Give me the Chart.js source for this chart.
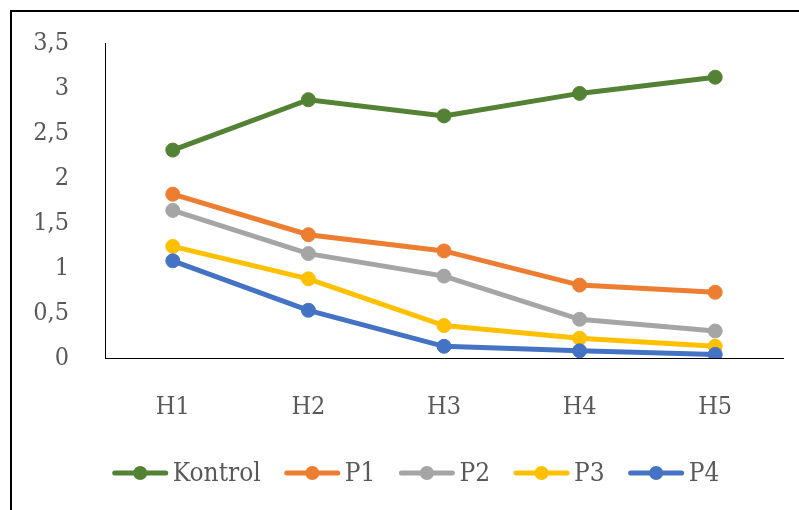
<!DOCTYPE html>
<html>
<head>
<meta charset="utf-8">
<script src="https://cdn.jsdelivr.net/npm/chart.js@4.4.0/dist/chart.umd.min.js"></script>
<style>
  body { margin: 0; background: #fff; }
  #wrap { position: relative; width: 799px; height: 510px; overflow: hidden; }
  #frame { position: absolute; left: 10px; top: 10px; width: 1000px; height: 1000px; border-left: 2px solid #000; border-top: 2px solid #000; }
  #c { position: absolute; left: 0; top: 0; }
</style>
</head>
<body>
<div id="wrap">
  <div id="frame"></div>
  <canvas id="c" width="799" height="510"></canvas>
</div>
<script>
const categories = ["H1", "H2", "H3", "H4", "H5"];
const seriesNames = ["Kontrol", "P1", "P2", "P3", "P4"];
const kontrol = [2.31, 2.87, 2.69, 2.94, 3.12];
const p1 = [1.82, 1.37, 1.19, 0.81, 0.73];
const p2 = [1.64, 1.16, 0.91, 0.43, 0.30];
const p3 = [1.24, 0.88, 0.36, 0.22, 0.13];
const p4 = [1.08, 0.53, 0.13, 0.08, 0.04];
const colors = ["#548235", "#ED7D31", "#A5A5A5", "#FFC000", "#4472C4"];
const yTicks = [0, 0.5, 1, 1.5, 2, 2.5, 3, 3.5];

const fontFamily = "'DejaVu Serif Condensed', 'DejaVu Serif', serif";

// legend drawn by hand: line + dot, then the name, all in one row
const legendRow = {
    id: "legendRow",
    afterDraw(chart) {
        const g = chart.ctx;
        const y = 473;
        const markW = 55, textGap = 5, itemGap = 24;
        g.save();
        g.font = "26px " + fontFamily;
        g.textBaseline = "middle";
        g.textAlign = "left";
        const widths = chart.data.datasets.map(ds => g.measureText(ds.label).width);
        let total = 0;
        widths.forEach(w => { total += markW + textGap + w; });
        total += itemGap * (widths.length - 1);
        let x = 416 - total / 2;
        chart.data.datasets.forEach((ds, i) => {
            g.strokeStyle = ds.borderColor;
            g.lineWidth = 5;
            g.lineCap = "round";
            g.beginPath();
            g.moveTo(x + 2, y);
            g.lineTo(x + markW - 2, y);
            g.stroke();
            g.fillStyle = ds.borderColor;
            g.beginPath();
            g.arc(x + markW / 2, y, 7, 0, Math.PI * 2);
            g.fill();
            x += markW + textGap;
            g.fillStyle = "#595959";
            g.fillText(ds.label, x, y + 1);
            x += widths[i] + itemGap;
        });
        g.restore();
    }
};

const allValues = [kontrol, p1, p2, p3, p4];
const datasets = allValues.map((vals, i) => ({
    label: seriesNames[i],
    data: vals,
    borderColor: colors[i],
    backgroundColor: colors[i],
    borderWidth: 5,
    pointRadius: 7,
    pointBorderWidth: 1,
    pointBackgroundColor: colors[i],
    pointBorderColor: colors[i],
    tension: 0,
    order: 5 - i
}));

const ctx = document.getElementById("c").getContext("2d");
new Chart(ctx, {
    type: "line",
    data: { labels: categories, datasets: datasets },
    options: {
        responsive: false,
        animation: false,
        devicePixelRatio: 1,
        layout: { padding: { left: 10, right: 16, top: 33, bottom: 62 } },
        plugins: {
            tooltip: { enabled: false },
            legend: { display: false }
        },
        scales: {
            x: {
                offset: true,
                grid: { display: false },
                border: { display: true, color: "#000", width: 1 },
                ticks: {
                    color: "#595959",
                    padding: 26,
                    font: { family: fontFamily, size: 25 }
                }
            },
            y: {
                min: 0,
                max: 3.5,
                grid: { display: false },
                border: { display: true, color: "#000", width: 1 },
                afterFit: function(scale) { scale.width = 95; },
                afterBuildTicks: function(scale) {
                    scale.ticks = yTicks.map(v => ({ value: v }));
                },
                ticks: {
                    color: "#595959",
                    padding: 28,
                    font: { family: fontFamily, size: 25 },
                    callback: function(value) {
                        return String(value).replace(".", ",");
                    }
                }
            }
        }
    },
    plugins: [legendRow]
});
</script>
</body>
</html>
